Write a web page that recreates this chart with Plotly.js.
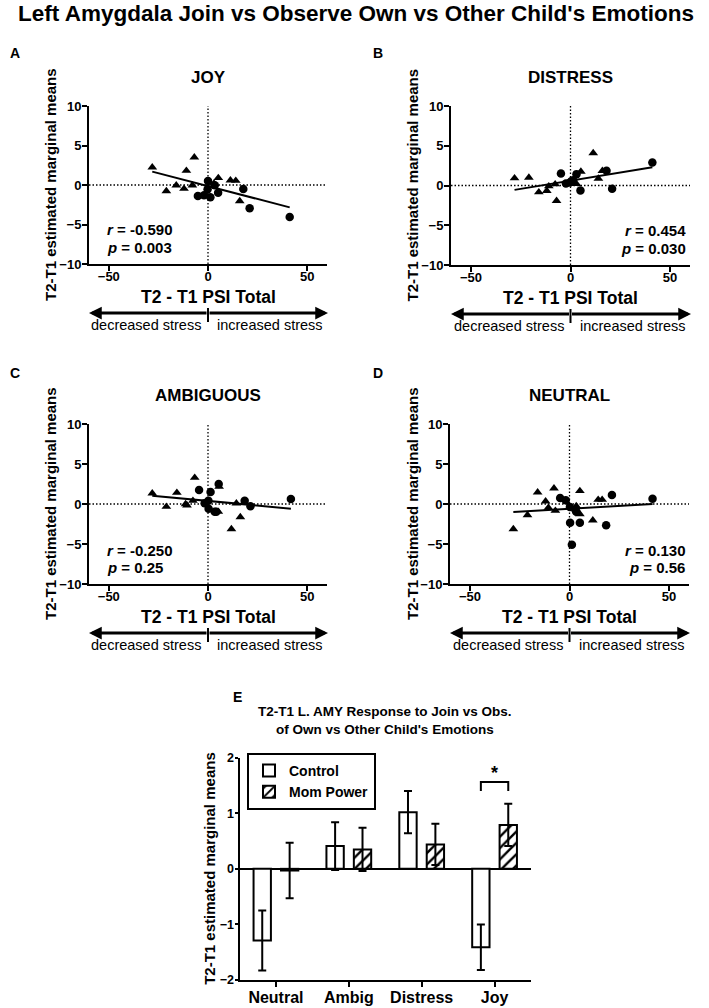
<!DOCTYPE html>
<html><head><meta charset="utf-8">
<script src="https://cdn.plot.ly/plotly-3.0.1.min.js"></script>
<style>html,body{margin:0;padding:0;background:#fff}#chart{width:709px;height:1008px}</style>
</head><body><div id="chart"></div>
<script>
// ---------- DATA ----------
// Panel A: JOY
const circX_A = [0, -0.2, -5.1, -2.0, 1.2, 3.4, 5.1, 17.8, 21.0, 41.2];
const circY_A = [0.5, -0.55, -1.39, -1.31, -1.56, -0.04, -0.97, -0.5, -2.95, -4.05];
const triX_A  = [-28.1, -21.0, -16.0, -12.1, -10.9, -7.9, -6.9, 3.0, 5.2, 11.3, 14.0, 16.0];
const triY_A  = [2.24, -0.76, -0.04, -0.46, 1.81, -0.04, 3.5, 0.2, 0.89, 0.59, 0.55, -2.03];
const fitX_A  = [-28.1, 41.2];
const fitY_A  = [1.69, -2.83];
// Panel B: DISTRESS
const circX_B = [-4.8, -2.3, -0.3, 0.5, 1.3, 3.0, 5.0, 18.1, 20.9, 41.1];
const circY_B = [1.51, 0.25, 0.38, 0.55, 0.67, 1.43, -0.63, 1.85, -0.42, 2.9];
const triX_B  = [-28.1, -20.9, -15.9, -11.9, -10.9, -7.7, -7.0, 3.0, 5.2, 11.4, 14.0, 16.0];
const triY_B  = [0.92, 1.0, -0.84, -0.67, -0.08, 0.17, -1.93, 0.2, 1.76, 4.08, 0.88, 1.85];
const fitX_B  = [-28.1, 41.1];
const fitY_B  = [-0.55, 2.31];
// Panel C: AMBIGUOUS
const circX_C = [-4.5, -1.7, 0.2, 0.3, 1.3, 3.4, 4.2, 5.4, 18.5, 21.4, 41.8];
const circY_C = [1.75, 0.08, 0.42, -0.58, 1.5, -0.96, -0.96, 2.5, 0.42, -0.29, 0.63];
const triX_C  = [-28.1, -21.0, -15.7, -11.3, -10.6, -7.6, -6.7, 5.6, 5.2, 11.8, 14.3, 16.3];
const triY_C  = [1.33, -0.33, 1.42, 0.0, -0.17, 0.42, 3.29, 2.17, -0.96, -3.13, 0.08, -1.63];
const fitX_C  = [-28.1, 41.8];
const fitY_C  = [1.04, -0.58];
// Panel D: NEUTRAL
const circX_D = [-4.7, -1.9, 0.2, 0.3, 1.2, 3.0, 3.4, 5.2, 18.4, 21.3, 41.7];
const circY_D = [0.75, 0.46, -0.38, -2.33, -5.08, -0.75, -0.96, -2.33, -2.67, 1.13, 0.67];
const triX_D  = [-28.2, -21.1, -16.0, -12.0, -10.6, -7.8, -7.1, 3.4, 5.2, 5.2, 11.7, 14.4, 16.4];
const triY_D  = [-3.13, -1.38, 1.46, 0.33, -0.46, 1.96, -0.83, -0.25, 1.63, -1.25, -2.04, 0.54, 0.54];
const fitX_D  = [-28.2, 41.7];
const fitY_D  = [-1.0, 0.0];
// correlation stats
const statR = ['-0.590', '0.454', '-0.250', '0.130'];
const statP = ['0.003', '0.030', '0.25', '0.56'];
const panelTitles = ['JOY', 'DISTRESS', 'AMBIGUOUS', 'NEUTRAL'];
const panelLetters = ['A', 'B', 'C', 'D'];
const scatterXTicks = [-50, 0, 50];
const scatterYTicks = [-10, -5, 0, 5, 10];
// Panel E: bars
const barCats = ['Neutral', 'Ambig', 'Distress', 'Joy'];
const controlVals = [-1.29, 0.41, 1.02, -1.41];
const controlErr  = [0.54, 0.43, 0.38, 0.41];
const momVals = [-0.03, 0.35, 0.44, 0.79];
const momErr  = [0.50, 0.39, 0.37, 0.38];
const barYTicks = [-2, -1, 0, 1, 2];

// ---------- LAYOUT HELPERS ----------
const W = 709, H = 1008;
const FONT = '"Liberation Sans", Arial, Helvetica, sans-serif';
const px = x => x / W;
const py = y => 1 - y / H;

const boxes = [ // [left, right, top, bottom] in px
  [89, 327, 106, 264],
  [451, 690, 106, 265],
  [89, 327, 424, 584],
  [450, 689, 424, 584]
];
const letterPos = [[15, 53], [378, 53], [15, 373], [378, 373]];
const yTitleX = [50, 412, 50, 412];
const statLeft = [true, false, true, false];

const sx = [[circX_A, circY_A, triX_A, triY_A, fitX_A, fitY_A],
            [circX_B, circY_B, triX_B, triY_B, fitX_B, fitY_B],
            [circX_C, circY_C, triX_C, triY_C, fitX_C, fitY_C],
            [circX_D, circY_D, triX_D, triY_D, fitX_D, fitY_D]];

const data = [];
const layout = {
  width: W, height: H,
  margin: {l: 0, r: 0, t: 0, b: 0},
  paper_bgcolor: '#fff', plot_bgcolor: 'rgba(0,0,0,0)',
  font: {family: FONT, color: '#000'},
  showlegend: true,
  annotations: [], shapes: [],
  bargap: 0.248, bargroupgap: 0.367,
  barmode: 'group'
};

function ann(o) { layout.annotations.push(Object.assign({showarrow: false, xref: 'paper', yref: 'paper', xanchor: 'center', yanchor: 'middle'}, o)); }
const bold = (s, extra) => Object.assign({family: FONT, size: s, color: '#000', weight: 700}, extra || {});

// main title
ann({x: px(356), y: py(14), text: "Left Amygdala Join vs Observe Own vs Other Child's Emotions", font: bold(22.5)});

for (let i = 0; i < 4; i++) {
  const n = i + 1;
  const [L, R, T, B] = boxes[i];
  const xa = 'x' + n, ya = 'y' + n;
  const [cxs, cys, txs, tys, fxs, fys] = sx[i];
  data.push({type: 'scatter', mode: 'markers', x: cxs, y: cys, xaxis: xa, yaxis: ya, showlegend: false,
    marker: {symbol: 'circle', size: 8.5, color: '#000'}, hoverinfo: 'skip'});
  data.push({type: 'scatter', mode: 'markers', x: txs, y: tys, xaxis: xa, yaxis: ya, showlegend: false,
    marker: {symbol: 'triangle-up', size: 8.5, color: '#000'}, hoverinfo: 'skip'});
  data.push({type: 'scatter', mode: 'lines', x: fxs, y: fys, xaxis: xa, yaxis: ya, showlegend: false,
    line: {color: '#000', width: 2}, hoverinfo: 'skip'});

  const axCommon = {showline: true, linecolor: '#000', linewidth: 2, ticks: 'outside', ticklen: 5, tickwidth: 2,
    tickcolor: '#000', showgrid: false, zeroline: false, tickfont: bold(13), fixedrange: true};
  layout['xaxis' + n] = Object.assign({}, axCommon, {domain: [px(L), px(R)], range: [-60, 60], anchor: ya,
    tickmode: 'array', tickvals: scatterXTicks, ticklabelstandoff: -6});
  layout['yaxis' + n] = Object.assign({}, axCommon, {domain: [py(B), py(T)], range: [-10, 10], anchor: xa,
    tickmode: 'array', tickvals: scatterYTicks, ticklabelstandoff: -2});

  // dotted reference lines
  layout.shapes.push({type: 'line', xref: xa, yref: ya + ' domain', x0: 0, x1: 0, y0: 0, y1: 1, layer: 'below',
    line: {color: '#000', width: 1.3, dash: '1.5px,2px'}});
  layout.shapes.push({type: 'line', xref: xa + ' domain', yref: ya, x0: 0, x1: 1, y0: 0, y1: 0, layer: 'below',
    line: {color: '#000', width: 1.3, dash: '1.5px,2px'}});

  const cxp = (L + R) / 2;
  ann({x: px(letterPos[i][0]), y: py(letterPos[i][1]), text: panelLetters[i], font: bold(14)});
  ann({x: px(cxp), y: py(T - 28), text: panelTitles[i], font: bold(17)});
  ann({x: px(yTitleX[i]), y: py((T + B) / 2), text: 'T2-T1 estimated marginal means', textangle: -90, font: bold(15)});
  // stats
  const sxp = statLeft[i] ? px(L + 16) : px(R - 2);
  const xanc = statLeft[i] ? 'left' : 'right';
  ann({x: sxp, y: py(B - 34), text: '<i>r</i> = ' + statR[i], xanchor: xanc, font: bold(15)});
  ann({x: sxp, y: py(B - 17), text: '<i>p</i> = ' + statP[i], xanchor: xanc, font: bold(15)});
  // x title and stress arrow
  const zeroPx = L + (R - L) * (0 - (-60)) / 120;
  ann({x: px(zeroPx), y: py(B + 33), text: 'T2 - T1 PSI Total', font: bold(17.5)});
  const arrowY = B + 49;
  ann({x: px(L), y: py(arrowY), text: '', showarrow: true, ax: zeroPx - L, ay: 0, axref: 'pixel', ayref: 'pixel',
    arrowhead: 2, arrowwidth: 3, arrowsize: 0.85, arrowcolor: '#000', standoff: 0, startstandoff: 0});
  ann({x: px(R + 1), y: py(arrowY), text: '', showarrow: true, ax: -(R + 1 - zeroPx), ay: 0, axref: 'pixel', ayref: 'pixel',
    arrowhead: 2, arrowwidth: 3, arrowsize: 0.85, arrowcolor: '#000', standoff: 0, startstandoff: 0});
  layout.shapes.push({type: 'line', xref: xa, yref: 'paper', x0: 0, x1: 0, y0: py(arrowY - 5), y1: py(arrowY + 9),
    line: {color: '#000', width: 2}});
  ann({x: px(zeroPx - 5), y: py(arrowY + 12), text: 'decreased stress', xanchor: 'right',
    font: {family: FONT, size: 14.5, color: '#000'}});
  ann({x: px(zeroPx + 7), y: py(arrowY + 12), text: 'increased stress', xanchor: 'left',
    font: {family: FONT, size: 14.5, color: '#000'}});
}

// ---------- PANEL E ----------
const EB = [239.5, 531, 757.7, 980];
data.push({type: 'bar', name: 'Control', x: barCats, y: controlVals, xaxis: 'x5', yaxis: 'y5',
  marker: {color: '#fff', line: {color: '#000', width: 2}},
  error_y: {type: 'data', array: controlErr, visible: true, color: '#000', thickness: 2, width: 4}, hoverinfo: 'skip'});
data.push({type: 'bar', name: 'Mom Power', x: barCats, y: momVals, xaxis: 'x5', yaxis: 'y5',
  marker: {color: '#fff', line: {color: '#000', width: 2},
    pattern: {shape: '/', fgcolor: '#000', bgcolor: '#fff', size: 8, solidity: 0.3}},
  error_y: {type: 'data', array: momErr, visible: true, color: '#000', thickness: 2, width: 4}, hoverinfo: 'skip'});

layout.xaxis5 = {domain: [px(EB[0]), px(EB[1])], anchor: 'y5', type: 'category', range: [-0.5, 3.5],
  showline: true, linecolor: '#000', linewidth: 2, ticks: 'outside', ticklen: 5, tickwidth: 2, tickcolor: '#000',
  showgrid: false, zeroline: false, tickfont: bold(16), fixedrange: true, ticklabelstandoff: -3};
layout.yaxis5 = {domain: [py(EB[3]), py(EB[2])], anchor: 'x5', range: [-2, 2], tickmode: 'array', tickvals: barYTicks,
  showline: true, linecolor: '#000', linewidth: 2, ticks: 'outside', ticklen: 3, tickwidth: 2, tickcolor: '#000',
  showgrid: false, zeroline: true, zerolinecolor: '#000', zerolinewidth: 2, tickfont: bold(12.5), fixedrange: true,
  ticklabelstandoff: -2};

layout.legend = {x: px(247), y: py(753), xanchor: 'left', yanchor: 'top', bgcolor: '#fff',
  bordercolor: '#000', borderwidth: 2, font: bold(14), tracegroupgap: 0, itemwidth: 30};

ann({x: px(237), y: py(697), text: 'E', font: bold(14)});
ann({x: px(385), y: py(720), text: "T2-T1 L. AMY Response to Join vs Obs.<br>of Own vs Other Child's Emotions", font: bold(13.5)});
ann({x: px(210), y: py((EB[2] + EB[3]) / 2), text: 'T2-T1 estimated marginal means', textangle: -90, font: bold(15)});

// significance bracket between Joy bars (offset derived from bar gaps)
const slot = (1 - layout.bargap) / 2;
const joyIdx = barCats.indexOf('Joy');
const bx0 = joyIdx - slot / 2, bx1 = joyIdx + slot / 2;
const sigTop = 1.565, sigFoot = 1.40;
layout.shapes.push({type: 'path', xref: 'x5', yref: 'y5',
  path: `M ${bx0},${sigFoot} L ${bx0},${sigTop} L ${bx1},${sigTop} L ${bx1},${sigFoot}`,
  line: {color: '#000', width: 2}});
ann({x: joyIdx, y: 1.72, xref: 'x5', yref: 'y5', text: '*', font: bold(18)});

Plotly.newPlot('chart', data, layout, {staticPlot: true, displayModeBar: false});
</script>
</body></html>
